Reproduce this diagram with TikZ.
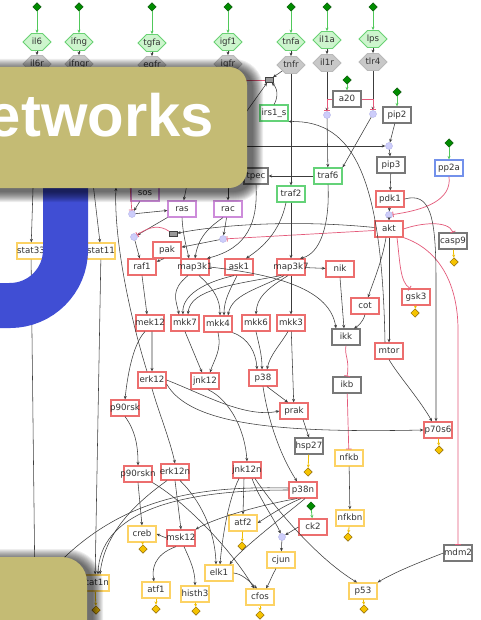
\documentclass[tikz,border=0pt]{standalone}
\usepackage{fontspec}
\setmainfont{DejaVu Sans}
\newfontfamily\bannerfont{Liberation Sans}
\usetikzlibrary{arrows.meta,shapes.geometric,shapes.symbols}

\definecolor{edgec}{RGB}{60,60,60}
\definecolor{inhc}{RGB}{228,90,122}
\definecolor{actg}{RGB}{80,200,90}
\definecolor{goldc}{RGB}{240,190,0}
\definecolor{redb}{RGB}{236,110,110}
\definecolor{grayb}{RGB}{120,120,120}
\definecolor{yelb}{RGB}{252,210,100}
\definecolor{grnb}{RGB}{100,210,120}
\definecolor{purb}{RGB}{205,140,218}
\definecolor{blub}{RGB}{115,145,235}
\definecolor{hexgf}{RGB}{205,245,205}
\definecolor{hexgd}{RGB}{105,210,115}
\definecolor{hexrf}{RGB}{200,200,200}
\definecolor{hexrd}{RGB}{185,185,185}
\definecolor{gdiaf}{RGB}{0,140,0}
\definecolor{gdiad}{RGB}{0,80,0}
\definecolor{ydiaf}{RGB}{245,195,0}
\definecolor{ydiad}{RGB}{140,100,0}
\definecolor{dotf}{RGB}{205,205,250}
\definecolor{dotd}{RGB}{180,180,235}
\definecolor{oliveb}{RGB}{196,187,116}
\definecolor{blueu}{RGB}{64,78,212}

\tikzset{
  lbl/.style={font=\fontsize{8.7}{10}\selectfont, text=black!80,
    text height=6.3bp, text depth=1.9bp,
    execute at begin node={\hbox to 0pt\bgroup\hss},
    execute at end node={\hss\egroup}},
  nbox/.style={lbl, rectangle, minimum width=28bp, minimum height=16bp,
    inner sep=0pt, line width=1.2bp, fill=white},
  rbox/.style={nbox, draw=redb},
  gybox/.style={nbox, draw=grayb},
  ybox/.style={nbox, draw=yelb},
  gnbox/.style={nbox, draw=grnb},
  pbox/.style={nbox, draw=purb},
  blbox/.style={nbox, draw=blub},
  hexg/.style={lbl, shape=signal, signal to=west and east, signal pointer angle=90,
    minimum width=28bp, minimum height=17bp, inner sep=0pt,
    fill=hexgf, draw=hexgd, line width=0.8bp},
  hexr/.style={hexg, fill=hexrf, draw=hexrd},
  gdia/.style={diamond, minimum width=8.5bp, minimum height=8.5bp, inner sep=0pt,
    fill=gdiaf, draw=gdiad, line width=0.5bp},
  ydia/.style={gdia, fill=ydiaf, draw=ydiad},
  jdot/.style={circle, minimum size=7bp, inner sep=0pt, fill=dotf, draw=dotd, line width=0.4bp},
  cplx/.style={rectangle, minimum width=8bp, minimum height=5bp, inner sep=0pt,
    fill=black!40, draw=black!75, line width=0.5bp},
  act/.style={draw=edgec, line width=0.55bp, -{Stealth[length=3.5bp,width=3bp]}},
  inh/.style={draw=inhc, line width=0.7bp, -{Bar[width=5.5bp,line width=0.8bp]}},
  gin/.style={draw=actg, line width=0.8bp, -{Stealth[length=3.5bp,width=3bp]}},
  yout/.style={draw=goldc, line width=0.8bp, -{Stealth[length=3bp,width=3bp]}},
}

\begin{document}
\begin{tikzpicture}[x=1bp,y=-1bp]
\path[use as bounding box] (0,0) rectangle (481,620);
\clip (0,0) rectangle (481,620);
\fill[white] (0,0) rectangle (481,620);

% ---------- ligands and receptors ----------
\foreach \a/\x/\yh/\r/\yr in {il6/37/42/il6r/64, ifng/79/42/ifngr/64, tgfa/152/43/egfr/65,
    igf1/228/42/igfr/64, tnfa/291/42/tnfr/65, il1a/327/40/il1r/63, lps/373/39/tlr4/62}{
  \node[gdia] (d\a) at (\x,7) {};
  \node[hexg] (\a) at (\x,\yh) {\a};
  \node[hexr] (\r) at (\x,\yr) {\r};
  \draw[gin] (d\a) -- (\a);
  \draw[act] (\a) -- (\r);
}

% ---------- network nodes ----------
\node[cplx] (cplx1) at (269,80) {};
\node[gnbox] (irs1s) at (274,113) {irs1\_s};
\node[gybox] (a20) at (347,99) {a20};
\node[gybox] (pip2) at (397,115) {pip2};
\node[jdot] (dot1) at (327,115) {};
\node[jdot] (dot2) at (373,114) {};
\node[jdot] (dot3) at (389,146) {};
\node[gybox] (pip3) at (391,165) {pip3};
\node[blbox] (pp2a) at (449,168) {pp2a};
\node[gnbox] (traf6) at (328,176) {traf6};
\node[gybox, minimum width=24bp] (tpec) at (256,176) {tpec};
\node[gnbox] (traf2) at (291,194) {traf2};
\node[rbox] (pdk1) at (390,199) {pdk1};
\node[jdot] (dot4) at (389,215) {};
\node[rbox] (akt) at (389,229) {akt};
\node[gybox] (casp9) at (453,241) {casp9};
\node[pbox] (sos) at (145,193) {sos};
\node[pbox] (ras) at (182,209) {ras};
\node[pbox] (rac) at (228,209) {rac};
\node[jdot] (dot7) at (132,214) {};
\node[jdot] (dot6) at (134,237) {};
\node[jdot] (dot5) at (223,239) {};
\node[cplx] (cplx2) at (173,234) {};
\node[rbox] (pak) at (167,250) {pak};
\node[rbox] (raf1) at (142,267) {raf1};
\node[rbox] (map3k1) at (195,267) {map3k1};
\node[rbox] (ask1) at (239,267) {ask1};
\node[rbox] (map3k7) at (291,267) {map3k7};
\node[rbox] (nik) at (340,269) {nik};
\node[rbox] (cot) at (365,306) {cot};
\node[rbox] (gsk3) at (416,297) {gsk3};
\node[ybox] (stat33) at (31,251) {stat33};
\node[ybox] (stat11) at (101,251) {stat11};
\node[rbox] (mek12) at (150,323) {mek12};
\node[rbox] (mkk7) at (185,323) {mkk7};
\node[rbox] (mkk4) at (218,324) {mkk4};
\node[rbox] (mkk6) at (256,323) {mkk6};
\node[rbox] (mkk3) at (291,323) {mkk3};
\node[gybox] (ikk) at (346,337) {ikk};
\node[rbox] (mtor) at (389,351) {mtor};
\node[gybox] (ikb) at (347,385) {ikb};
\node[rbox] (erk12) at (152,380) {erk12};
\node[rbox] (jnk12) at (205,381) {jnk12};
\node[rbox] (p38) at (263,378) {p38};
\node[rbox] (p90rsk) at (125,408) {p90rsk};
\node[rbox] (prak) at (294,411) {prak};
\node[rbox] (p70s6) at (438,430) {p70s6};
\node[gybox] (hsp27) at (309,446) {hsp27};
\node[ybox] (nfkb) at (349,458) {nfkb};
\node[rbox] (p90rskn) at (138,474) {p90rskn};
\node[rbox] (erk12n) at (175,472) {erk12n};
\node[rbox] (jnk12n) at (247,470) {jnk12n};
\node[rbox] (p38n) at (303,490) {p38n};
\node[ybox] (atf2) at (243,523) {atf2};
\node[rbox] (ck2) at (313,527) {ck2};
\node[ybox] (nfkbn) at (350,518) {nfkbn};
\node[jdot] (dot8) at (282,537) {};
\node[ybox] (creb) at (142,534) {creb};
\node[rbox] (msk12) at (181,538) {msk12};
\node[ybox] (cjun) at (281,560) {cjun};
\node[ybox] (elk1) at (219,573) {elk1};
\node[gybox] (mdm2) at (458,553) {mdm2};
\node[ybox] (atf1) at (156,590) {atf1};
\node[ybox] (histh3) at (195,594) {histh3};
\node[ybox] (cfos) at (260,597) {cfos};
\node[ybox] (p53) at (363,591) {p53};
\node[ybox] (stat1n) at (95,583) {stat1n};

% stimuli on inner nodes
\node[gdia] (da20) at (347,80) {};
\node[gdia] (dpip2) at (397,92) {};
\node[gdia] (dpp2a) at (449,143) {};
\node[gdia] (dck2) at (311,506) {};
\draw[gin] (da20) -- (a20);
\draw[gin] (dpip2) -- (pip2);
\draw[gin] (dpp2a) -- (pp2a);
\draw[gin] (dck2) -- (ck2);

% read-outs
\foreach \n/\x/\y in {casp9/454/262, gsk3/415/313, p70s6/439/450, hsp27/308/472,
    creb/143/549, atf1/156/609, histh3/196/611, atf2/242/546, nfkbn/348/537,
    cfos/260/615, p53/364/609, stat1n/96/610}{
  \node[ydia] (o\n) at (\x,\y) {};
  \draw[yout] (\n) -- (o\n);
}

% free ends that run under the banner
\coordinate (hPink) at (225,80);
\coordinate (hDiag) at (212,160);
\coordinate (hRas) at (190,170);
\coordinate (hRac) at (228,170);
\coordinate (hSos) at (129,170);
\coordinate (hErk) at (116,187.5);
\coordinate (hS3n) at (35,590);

% ---------- connectors: receptor level ----------
\draw[act] (tnfr) -- (cplx1);
\draw[act] (irs1s.north) .. controls (277,100) and (279,90) .. (cplx1);
\draw[act] (hDiag) -- (cplx1);
\draw[inh] (cplx1) -- (hPink);
\draw[act] (tnfr) -- (traf2);
\draw[act] (il1r) -- (dot1);
\draw[act] (tlr4) -- (dot2);
\draw[inh] (a20.west) -| (dot1);
\draw[inh] (a20.east) -| (dot2);
\draw[act] (dot1) -- (traf6);
\draw[act] (dot2) -- (traf6.north east);
\draw[act] (pip2) -- (dot3);
\draw[act] (igfr) |- (dot3);
\draw[act] (dot3) -- (pip3);
\draw[act] (pip3) -- (pdk1);
\draw[act] (pdk1) -- (dot4);
\draw[inh] (pp2a.south) .. controls (452,200) and (425,210) .. (dot4);
\draw[act] (dot4) -- (akt);
\draw[act] (traf6) -- (tpec);
\draw[act] ([xshift=-4bp]mtor.north) .. controls (382,180) and (355,120) .. (irs1s.south east);

% ---------- ras / rac module ----------
\draw[act] (hRas) -- (ras);
\draw[act] (hRac) -- (rac);
\draw[inh] (hSos) -- (dot7);
\draw[act] (sos) -- (dot7);
\draw[act] (dot7) -- (ras);
\draw[act] (ras) -- (dot6);
\draw[act] ([yshift=1.5bp]akt.west) .. controls (300,220) and (225,224) .. (cplx2);
\draw[inh] (cplx2) .. controls (160,225) and (150,226) .. (dot6);
\draw[act] (dot6) -- (raf1);
\draw[act] (rac) -- (dot5);
\draw[inh] ([yshift=-1.5bp]akt.west) -- (dot5);
\draw[act] (dot5) -- (pak);
\draw[act] ([xshift=-3bp]pak.south) -- (raf1.20);
\draw[act] (ras.south) .. controls (183,235) and (186,245) .. ([xshift=-6bp]map3k1.north);
\draw[act] ([xshift=-5bp]rac.south) .. controls (205,230) and (198,240) .. (map3k1.north);
\draw[act] (tpec.south) .. controls (258,222) and (248,248) .. ([xshift=12bp]map3k1.north);
\draw[act] ([xshift=-5bp]traf2.south) .. controls (280,232) and (262,248) .. ([xshift=7bp]ask1.north);
\draw[act] (traf2) -- (map3k7);
\draw[act] (traf6.south) .. controls (330,225) and (320,254) .. ([xshift=9bp]map3k7.north);
\draw[act] (map3k7) -- (nik);

% ---------- akt outputs ----------
\draw[act] (akt) -- (mtor);
\draw[act] ([xshift=-3bp]akt.south) .. controls (382,262) and (372,285) .. ([xshift=3bp]cot.north);
\draw[inh] ([xshift=8bp]akt.south) .. controls (400,262) and (400,282) .. ([xshift=-6bp]gsk3.north);
\draw[inh] (akt.east) .. controls (420,223) and (448,220) .. (casp9.north);
\draw[inh] (akt.south east) .. controls (440,250) and (458,285) .. (458,330) -- (mdm2.north);
\draw[act] (pdk1.east) .. controls (430,192) and (436,215) .. (436,280) -- ([xshift=-2bp]p70s6.north);

% ---------- kinase cascades ----------
\draw[act] (raf1.south) -- ([xshift=-3bp]mek12.north);
\draw[act] ([xshift=-7bp]map3k1.south) .. controls (170,290) and (176,300) .. ([xshift=-6bp]mkk7.north);
\draw[act] ([xshift=-5bp]ask1.south) .. controls (205,282) and (182,295) .. ([xshift=-2bp]mkk7.north);
\draw[act] ([xshift=-10bp]map3k7.south) .. controls (230,285) and (190,290) .. ([xshift=3bp]mkk7.north);
\draw[act] ([xshift=4bp]map3k1.south) .. controls (215,290) and (220,300) .. ([xshift=2bp]mkk4.north);
\draw[act] ([xshift=-2bp]ask1.south) .. controls (230,290) and (224,300) .. ([xshift=6bp]mkk4.north);
\draw[act] ([xshift=-7bp]map3k7.south) .. controls (255,290) and (232,295) .. ([xshift=10bp]mkk4.north);
\draw[act] ([xshift=-3bp]map3k7.south) .. controls (265,290) and (257,298) .. (mkk6.north);
\draw[act] (map3k7) -- (mkk3);
\draw[act] (map3k1.east) .. controls (280,275) and (330,290) .. ([xshift=-10bp]ikk.north);
\draw[act] (nik.south) -- ([xshift=-2bp]ikk.north);
\draw[act] (cot.south) .. controls (363,322) and (358,326) .. ([xshift=8bp]ikk.north);
\draw[inh] (ikk.south) .. controls (344,355) and (350,360) .. (ikb.north);
\draw[inh] (ikb) -- (nfkb);
\draw[act] (nfkb) -- (nfkbn);
\draw[act] ([xshift=2bp]mek12.south) -- (erk12.north);
\draw[act] ([xshift=-5bp]mek12.south) .. controls (132,345) and (127,380) .. (p90rsk.north);
\draw[act] (mkk7.south) -- ([xshift=-3bp]jnk12.north);
\draw[act] (mkk4.south) .. controls (222,350) and (214,360) .. ([xshift=5bp]jnk12.north);
\draw[act] (mkk4.south east) .. controls (248,338) and (256,352) .. ([xshift=-6bp]p38.north);
\draw[act] (mkk6.south) .. controls (259,345) and (262,355) .. ([xshift=-1bp]p38.north);
\draw[act] ([xshift=-3bp]mkk3.south) .. controls (280,345) and (270,355) .. ([xshift=4bp]p38.north);
\draw[act] (mkk3) -- (prak);
\draw[act] (mtor.south) .. controls (398,375) and (420,400) .. ([xshift=-6bp]p70s6.north);
\draw[act] ([xshift=-5bp]erk12.north) .. controls (125,300) and (114,230) .. (hErk);
\draw[act] (erk12.south) .. controls (158,410) and (170,440) .. (erk12n.north);
\draw[act] (erk12.east) .. controls (205,395) and (245,418) .. (prak.west);
\draw[act] ([yshift=-4bp]erk12.east) .. controls (190,425) and (280,433) .. (p70s6.west);
\draw[act] ([xshift=3bp]jnk12.south) .. controls (230,400) and (245,430) .. (jnk12n.north);
\draw[act] ([xshift=4bp]p38.south) -- ([xshift=-6bp]prak.north);
\draw[act] (p38.south) .. controls (268,420) and (280,455) .. ([xshift=-6bp]p38n.north);
\draw[act] ([xshift=9bp]prak.south) -- (hsp27.north);
\draw[act] (p90rsk.south) .. controls (135,430) and (138,445) .. (p90rskn.north);

% ---------- transcription factors ----------
\draw[act] (ifngr) -- (stat11);
\draw[act] (il6r) -- (stat33);
\draw[act] (stat33) -- (hS3n);
\draw[act] (stat11) -- (stat1n);
\draw[act] (p90rskn.south) -- (creb.north);
\draw[act] (p90rskn.south east) .. controls (190,505) and (235,555) .. ([xshift=-6bp]cfos.north);
\draw[act] (erk12n.south) -- (msk12.north);
\draw[act] ([xshift=5bp]erk12n.south) .. controls (200,500) and (215,530) .. ([xshift=-3bp]elk1.north);
\draw[act] ([xshift=-8bp]erk12n.south) .. controls (140,500) and (105,530) .. ([xshift=5bp]stat1n.north);
\draw[act] (p38n.west) .. controls (170,490) and (100,515) .. ([xshift=3bp]stat1n.north);
\draw[act] ([yshift=2bp]p38n.west) .. controls (200,486) and (110,495) .. (hS3n);
\draw[act] ([xshift=-6bp]p38n.south) .. controls (260,505) and (215,518) .. (msk12.north east);
\draw[act] ([xshift=-2bp]p38n.south) .. controls (285,505) and (270,515) .. (atf2.east);
\draw[act] ([xshift=2bp]p38n.south) .. controls (285,515) and (240,550) .. ([xshift=-4bp]elk1.north east);
\draw[act] ([xshift=-3bp]jnk12n.south) -- (atf2.north);
\draw[act] ([xshift=-8bp]jnk12n.south) .. controls (228,500) and (222,540) .. ([xshift=1bp]elk1.north);
\draw[act] ([xshift=5bp]jnk12n.south) .. controls (260,500) and (275,520) .. (dot8);
\draw[act] ([xshift=8bp]jnk12n.south) .. controls (280,515) and (320,560) .. ([xshift=-6bp]p53.north);
\draw[act] (ck2.west) -- (dot8);
\draw[act] (dot8) -- (cjun);
\draw[act] ([xshift=-5bp]cjun.south) .. controls (272,575) and (270,582) .. ([xshift=6bp]cfos.north);
\draw[act] (elk1.east) .. controls (242,574) and (248,580) .. ([xshift=-3bp]cfos.north);
\draw[act] (msk12.west) -- (creb.east);
\draw[act] ([xshift=-5bp]msk12.south) .. controls (153,555) and (152,570) .. ([xshift=-2bp]atf1.north);
\draw[act] ([xshift=3bp]msk12.south) .. controls (190,560) and (195,570) .. (histh3.north);
\draw[act] (mdm2.west) .. controls (420,562) and (395,572) .. (p53.north east);

% ---------- overlay: blue stroke ----------
\draw[blueu, line width=45bp] (65.5,120) -- (65.5,250)
  .. controls (65.5,280.65) and (40.65,305.5) .. (10,305.5) -- (-40,305.5);

% ---------- overlay: banner with soft shadow ----------
\foreach \k in {1,...,11}{
  \pgfmathsetmacro{\s}{12-\k}
  \pgfmathsetmacro{\rr}{18+\s}
  \fill[black, opacity=0.07, rounded corners=\rr bp]
    (-60-\s, 70-\s) rectangle (252+\s, 191+\s);
}
\fill[oliveb, rounded corners=18bp] (-60,67) rectangle (247,188);
\node[anchor=base east, inner sep=0pt, text=white,
  font=\bannerfont\bfseries\fontsize{60}{60}\selectfont] (banner) at (214,137) {etworks};

% ---------- overlay: lower corner panel ----------
\foreach \k in {1,...,11}{
  \pgfmathsetmacro{\s}{12-\k}
  \pgfmathsetmacro{\rr}{25+\s}
  \fill[black, opacity=0.07, rounded corners=\rr bp]
    (-60-\s, 560-\s) rectangle (92+\s, 690+\s);
}
\fill[oliveb, rounded corners=25bp] (-60,557) rectangle (87,690);
\end{tikzpicture}
\end{document}
